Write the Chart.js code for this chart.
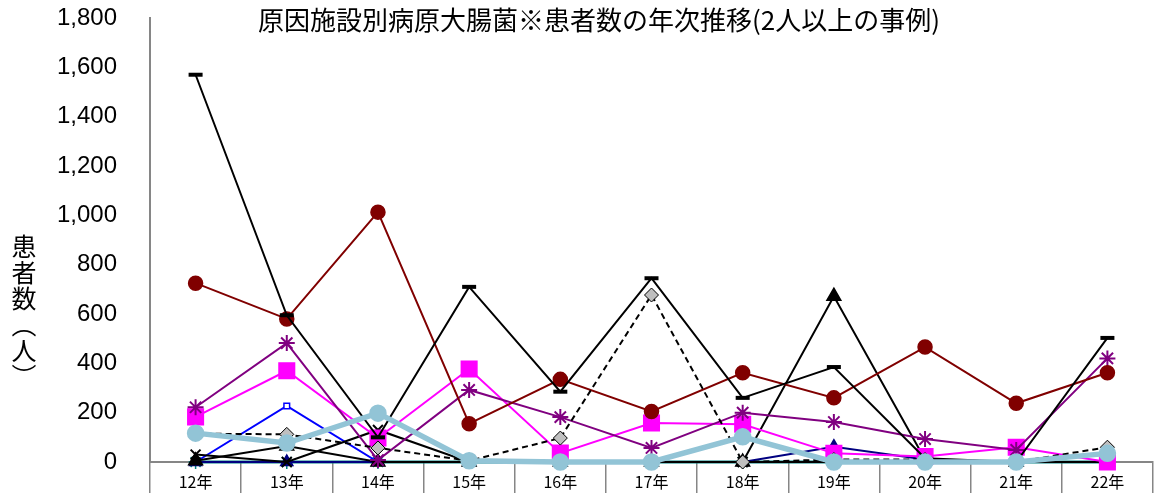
<!DOCTYPE html>
<html lang="ja">
<head>
<meta charset="utf-8">
<script src="https://cdn.jsdelivr.net/npm/chart.js@4.4.0/dist/chart.umd.min.js"></script>
<style>
  html, body { margin: 0; padding: 0; background: #fff; overflow: hidden; }
  #wrap { position: relative; width: 1154px; height: 493px; }
  #myChart { position: absolute; left: 0; top: 0; display: block; }
  #chartTitle {
    position: absolute; left: 599px; top: 6px; transform: translateX(-50%);
    white-space: nowrap; font-family: "Noto Sans CJK JP", sans-serif; font-size: 26px; line-height: 1; color: #000;
  }
  #yTitle {
    position: absolute; left: 11px; top: 234px; writing-mode: vertical-rl; letter-spacing: 1px;
    font-family: "Noto Sans CJK JP", sans-serif; font-size: 25px; line-height: 1; color: #000;
  }
</style>
</head>
<body>
<div id="wrap">
  <canvas id="myChart" width="1154" height="493"></canvas>
  <div id="chartTitle">原因施設別病原大腸菌※患者数の年次推移(2人以上の事例)</div>
  <div id="yTitle">患者数（人）</div>
</div>
<script>
const years = ['12年', '13年', '14年', '15年', '16年', '17年', '18年', '19年', '20年', '21年', '22年'];
const yTicks = [0, 200, 400, 600, 800, 1000, 1200, 1400, 1600, 1800];

// values (people)
const lightBlue  = [117, 77, 198, 5, 0, 0, 102, 0, 0, 0, 35];
const maroon     = [725, 580, 1013, 155, 335, 205, 362, 260, 466, 238, 362];
const blackBar   = [1570, 595, 100, 710, 285, 745, 260, 385, 15, 0, 503];
const blackTri   = [5, 65, 0, 0, 0, 0, 0, 672, 10, 0, 0];
const blackCross = [30, 0, 130, 0, 0, 0, 0, 0, 0, 0, 0];
const purple     = [222, 482, 8, 292, 182, 57, 200, 162, 93, 49, 420];
const magenta    = [183, 370, 97, 377, 36, 158, 153, 35, 22, 60, 0];
const dashed     = [115, 112, 57, 5, 97, 677, 0, 10, 10, 0, 60];
const blue       = [0, 227, 0, 0, 0, 0, 0, 0, 0, 0, 0];
const navy       = [0, 0, 0, 0, 0, 0, 0, 62, 10, 0, 0];
const teal       = [0, 0, 0, 0, 0, 0, 0, 0, 0, 0, 0];

const axisGray = '#868686';

function series(label, data, color, extra) {
  return Object.assign({
    label: label,
    data: data,
    borderColor: color,
    backgroundColor: color,
    pointBorderColor: color,
    pointBackgroundColor: color,
    borderWidth: 2,
    pointRadius: 7,
    pointBorderWidth: 1.5,
    tension: 0,
    clip: false
  }, extra || {});
}

// first dataset is drawn on top
const datasets = [
  series('lightBlue', lightBlue, '#92C4D6', { borderWidth: 5.5, pointStyle: 'circle', pointRadius: 8 }),
  series('blackBar', blackBar, '#000000', { pointStyle: 'line', pointRadius: 7, pointBorderWidth: 4 }),
  series('dashed', dashed, '#000000', { borderDash: [6, 4], pointStyle: 'rectRot', pointRadius: 7, pointBackgroundColor: '#BFBFBF', pointBorderWidth: 1 }),
  series('maroon', maroon, '#800000', { pointStyle: 'circle', pointRadius: 7 }),
  series('purple', purple, '#800080', { pointStyle: 'star', pointRadius: 8, pointBorderWidth: 2 }),
  series('magenta', magenta, '#FF00FF', { pointStyle: 'rect', pointRadius: 11 }),
  series('blackTri', blackTri, '#000000', { pointStyle: 'triangle', pointRadius: 8 }),
  series('blackCross', blackCross, '#000000', { pointStyle: 'crossRot', pointRadius: 7, pointBorderWidth: 2 }),
  series('navy', navy, '#000080', { pointStyle: 'triangle', pointRadius: 7 }),
  series('blue', blue, '#0000FF', { pointStyle: 'rect', pointRadius: 4, pointBackgroundColor: '#ffffff' }),
  series('teal', teal, '#008080', { pointStyle: 'star', pointRadius: 7, borderWidth: 3 })
];

const config = {
  type: 'line',
  data: { labels: years, datasets: datasets },
  options: {
    responsive: false,
    animation: false,
    layout: { autoPadding: false, padding: { top: 18, right: 1, left: 0, bottom: 0 } },
    plugins: {
      legend: { display: false },
      title: { display: false },
      tooltip: { enabled: false }
    },
    scales: {
      x: {
        offset: true,
        grid: { offset: true, drawOnChartArea: false, drawTicks: true, tickLength: 31, color: axisGray, lineWidth: 1.5 },
        border: { display: true, color: axisGray, width: 2 },
        ticks: {
          padding: -21,
          maxRotation: 0,
          autoSkip: false,
          color: '#000',
          font: { family: '"Noto Sans CJK JP", sans-serif', size: 16 }
        },
        afterFit: (scale) => {
          scale.height = 31;
          scale.paddingLeft = 0;
          scale.paddingRight = 0;
        }
      },
      y: {
        min: yTicks[0],
        max: yTicks[yTicks.length - 1],
        // invisible tick marks only push the labels away from the axis line
        grid: { drawOnChartArea: false, drawTicks: true, tickLength: 30, tickColor: 'rgba(0,0,0,0)' },
        border: { display: true, color: axisGray, width: 2 },
        afterBuildTicks: (scale) => { scale.ticks = yTicks.map(v => ({ value: v })); },
        ticks: {
          padding: 3,
          color: '#000',
          font: { family: '"Liberation Sans", Arial, sans-serif', size: 24 },
          callback: (value) => value.toLocaleString('en-US')
        },
        afterFit: (scale) => { scale.width = 150; }
      }
    }
  }
};

const myChart = new Chart('myChart', config);
</script>
</body>
</html>
